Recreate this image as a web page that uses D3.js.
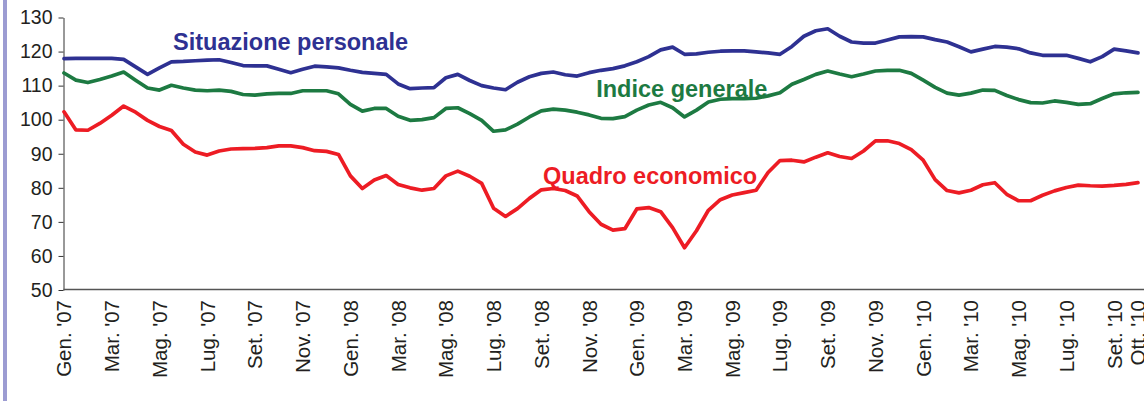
<!DOCTYPE html>
<html>
<head>
<meta charset="utf-8">
<script src="https://cdn.jsdelivr.net/npm/d3@7"></script>
<style>
  body { margin: 0; background: #fff; }
  svg { display: block; font-family: "Liberation Sans", Arial, sans-serif; }
  .axis text { fill: #231f20; }
  .series { fill: none; stroke-width: 3.7; stroke-linejoin: round; stroke-linecap: round; }
  .lbl { font-weight: bold; font-size: 23.5px; }
</style>
</head>
<body>
<svg id="chart" width="1144" height="401"></svg>
<script>
// Monthly axis labels (every two months, plus the last one)
const tickMonths = [0, 2, 4, 6, 8, 10, 12, 14, 16, 18, 20, 22, 24, 26, 28, 30, 32, 34, 36, 38, 40, 42, 44, 45];
const tickLabels = ["Gen. '07", "Mar. '07", "Mag. '07", "Lug. '07", "Set. '07", "Nov. '07",
    "Gen. '08", "Mar. '08", "Mag. '08", "Lug. '08", "Set. '08", "Nov. '08",
    "Gen. '09", "Mar. '09", "Mag. '09", "Lug. '09", "Set. '09", "Nov. '09",
    "Gen. '10", "Mar. '10", "Mag. '10", "Lug. '10", "Set. '10", "Ott. '10"];
const yTicks = [50, 60, 70, 80, 90, 100, 110, 120, 130];

// Values read every half month, Gen. '07 .. Ott. '10
const situazionePersonale = [
    117.9, 118.0, 118.0, 118.0, 118.0, 117.7, 115.5, 113.3, 115.2, 117.0,
    117.1, 117.3, 117.5, 117.6, 116.8, 115.9, 115.8, 115.8, 114.8, 113.8,
    114.8, 115.7, 115.5, 115.2, 114.5, 113.9, 113.6, 113.3, 110.5, 109.1,
    109.3, 109.4, 112.3, 113.3, 111.5, 110.0, 109.3, 108.8, 111.0, 112.6,
    113.6, 114.0, 113.2, 112.8, 113.8, 114.5, 115.0, 115.8, 117.0, 118.5,
    120.5, 121.3, 119.2, 119.3, 119.8, 120.1, 120.2, 120.2, 119.9, 119.6,
    119.2, 121.5, 124.5, 126.1, 126.7, 124.5, 122.8, 122.5, 122.5, 123.4,
    124.3, 124.4, 124.3, 123.5, 122.8, 121.4, 119.9, 120.7, 121.5, 121.3,
    120.8, 119.6, 118.9, 118.9, 118.9, 118.0, 117.0, 118.5, 120.7, 120.2,
    119.6
];
const indiceGenerale = [
    113.7, 111.6, 110.9, 111.8, 112.8, 114.0, 111.6, 109.3, 108.7, 110.1,
    109.3, 108.7, 108.5, 108.7, 108.3, 107.4, 107.2, 107.6, 107.7, 107.7,
    108.5, 108.5, 108.5, 107.6, 104.5, 102.5, 103.3, 103.3, 101.0, 99.8,
    100.0, 100.6, 103.3, 103.5, 101.8, 99.8, 96.6, 97.0, 98.7, 100.8,
    102.6, 103.1, 102.8, 102.2, 101.4, 100.4, 100.3, 100.9, 102.8, 104.3,
    105.1, 103.5, 100.8, 102.8, 105.2, 106.0, 106.2, 106.2, 106.3, 107.0,
    107.9, 110.4, 111.8, 113.3, 114.3, 113.4, 112.6, 113.4, 114.3, 114.5,
    114.5, 113.6, 111.6, 109.5, 107.8, 107.2, 107.8, 108.7, 108.6, 107.1,
    105.9, 105.0, 104.9, 105.5, 105.1, 104.5, 104.7, 106.2, 107.6, 107.9,
    108.0
];
const quadroEconomico = [
    102.3, 97.0, 96.9, 98.9, 101.3, 104.0, 102.2, 99.8, 98.0, 96.8,
    92.8, 90.5, 89.6, 90.8, 91.4, 91.5, 91.6, 91.8, 92.3, 92.3,
    91.8, 90.9, 90.7, 89.8, 83.5, 79.8, 82.3, 83.6, 81.0, 80.0,
    79.3, 79.8, 83.5, 84.9, 83.4, 81.3, 74.0, 71.6, 73.9, 76.9,
    79.4, 79.8, 79.2, 77.6, 73.0, 69.3, 67.6, 68.0, 73.8, 74.2,
    73.0, 68.3, 62.4, 67.4, 73.4, 76.5, 77.9, 78.6, 79.3, 84.5,
    88.0, 88.1, 87.6, 89.0, 90.3, 89.2, 88.6, 90.8, 93.8, 93.8,
    93.0, 91.2, 88.1, 82.4, 79.2, 78.5, 79.3, 80.9, 81.5, 78.1,
    76.2, 76.2, 77.8, 79.1, 80.1, 80.8, 80.6, 80.5, 80.7, 81.0,
    81.5
];

const series = [
    { name: 'Situazione personale', values: situazionePersonale, color: '#2e3192', at: [4.57, 120.6] },
    { name: 'Indice generale', values: indiceGenerale, color: '#1d7a42', at: [22.3, 106.7] },
    { name: 'Quadro economico', values: quadroEconomico, color: '#ed1c24', at: [20.07, 81.0] }
];

const svg = d3.select('#chart');

// left frame stripe
svg.append('rect').attr('x', 3).attr('y', 0).attr('width', 4).attr('height', 401).attr('fill', '#9c9cd2');

const x = d3.scaleLinear().domain([0, 45]).range([64, 1138]);
const y = d3.scaleLinear().domain([50, 130]).range([290, 17.5]);

// y axis
const yAxis = svg.append('g')
    .attr('class', 'axis')
    .attr('transform', 'translate(63.5,0)')
    .call(d3.axisLeft(y).tickValues(yTicks).tickSize(5).tickSizeOuter(0).tickPadding(6));
yAxis.selectAll('text').style('font-size', '19.5px');
yAxis.selectAll('line, path').attr('stroke', '#333');

// x axis
const xAxis = svg.append('g')
    .attr('class', 'axis')
    .attr('transform', 'translate(0,' + y(50) + ')')
    .call(d3.axisBottom(x).tickValues(tickMonths).tickFormat((d, i) => tickLabels[i]).tickSize(0));
xAxis.select('.domain').remove();
xAxis.append('line')
    .attr('x1', 63.5).attr('x2', 1144)
    .attr('y1', -0.5).attr('y2', -0.5)
    .attr('stroke', '#555').attr('stroke-width', 1.5);
xAxis.selectAll('.tick text')
    .style('font-size', '20.5px')
    .attr('transform', 'rotate(-90)')
    .attr('text-anchor', 'end')
    .attr('x', -10)
    .attr('y', 0)
    .attr('dy', '0.34em');

// lines
const line = d3.line()
    .x((d, i) => x(i / 2))
    .y(d => y(d));

series.forEach(s => {
    svg.append('path')
        .datum(s.values)
        .attr('class', 'series')
        .attr('stroke', s.color)
        .attr('d', line);
    svg.append('text')
        .attr('class', 'lbl')
        .attr('x', x(s.at[0]))
        .attr('y', y(s.at[1]))
        .attr('fill', s.color)
        .text(s.name);
});
</script>
</body>
</html>
